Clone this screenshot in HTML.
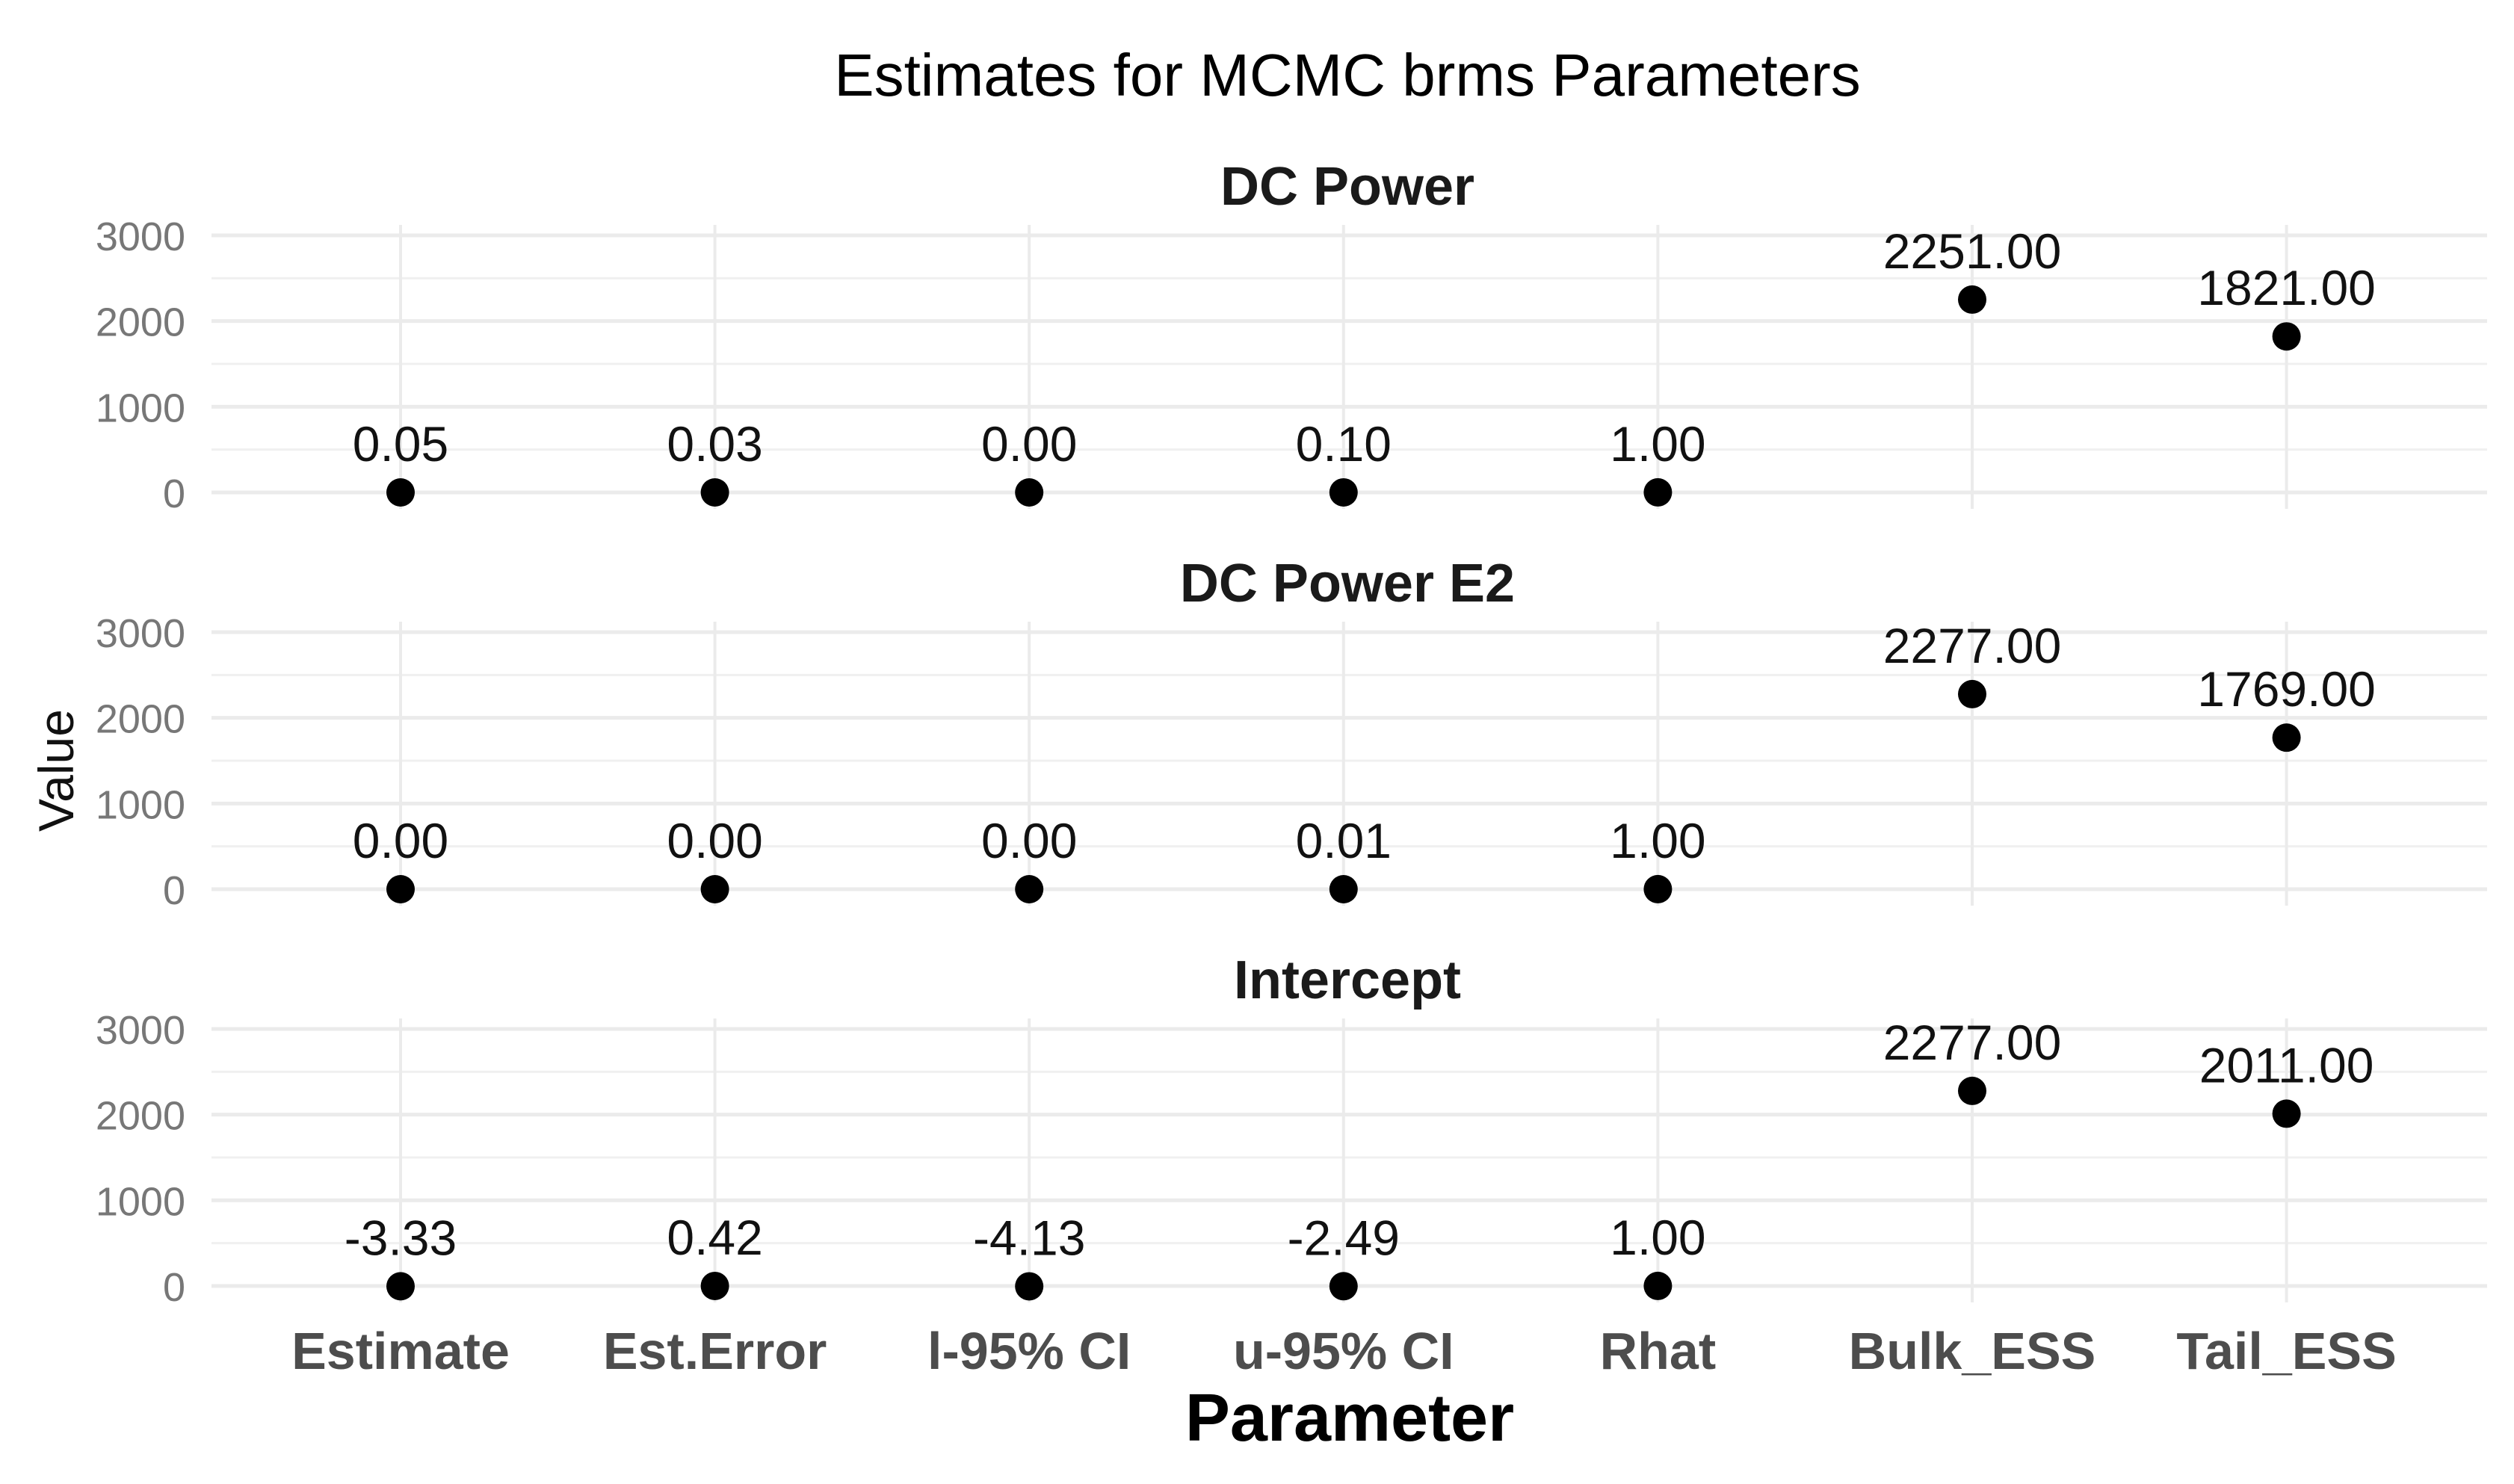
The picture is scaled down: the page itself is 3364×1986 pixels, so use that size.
<!DOCTYPE html>
<html><head><meta charset="utf-8"><style>
html,body{margin:0;padding:0;background:#fff;}
svg{display:block;}
</style></head><body>
<svg id="chart" width="3364" height="1986" xmlns="http://www.w3.org/2000/svg" font-family="Liberation Sans, sans-serif">
<rect width="3364" height="1986" fill="#fff"/>
<text x="1803" y="128" font-size="80" text-anchor="middle" fill="#000">Estimates for MCMC brms Parameters</text>
<text transform="translate(98,1031) rotate(-90)" font-size="66" text-anchor="middle" fill="#111">Value</text>
<text x="1806" y="1928" font-size="90" font-weight="bold" text-anchor="middle" fill="#000">Parameter</text>
<g id="panels"></g>
</svg>
<script>
const categories = ["Estimate","Est.Error","l-95% CI","u-95% CI","Rhat","Bulk_ESS","Tail_ESS"];
const panelNames = ["DC Power","DC Power E2","Intercept"];
const valuesDCPower = [0.05,0.03,0.00,0.10,1.00,2251,1821];
const valuesDCPowerE2 = [0.00,0.00,0.00,0.01,1.00,2277,1769];
const valuesIntercept = [-3.33,0.42,-4.13,-2.49,1.00,2277,2011];
const yTicks = [0,1000,2000,3000];
const yMinor = [500,1500,2500];

const NS="http://www.w3.org/2000/svg";
const root=document.getElementById('panels');
const allValues=[valuesDCPower,valuesDCPowerE2,valuesIntercept];
const xLeft=283,xRight=3328;
const panelZero=[659,1190,1721];
const pxPer=344/3000;
function xScale(i){return 536+i*420.6;}
function mk(tag,attrs,parent){const e=document.createElementNS(NS,tag);for(const k in attrs)e.setAttribute(k,attrs[k]);parent.appendChild(e);return e;}

panelNames.forEach((name,p)=>{
  const z=panelZero[p];
  const yScale=v=>z-v*pxPer;
  const g=mk('g',{},root);
  
  
  const top=yScale(3000)-14, bot=z+22;
  yMinor.forEach(t=>{const l=mk('line',{x1:xLeft,x2:xRight,y1:yScale(t),y2:yScale(t),stroke:'#f0f0f0','stroke-width':3},g);
    
    });
  yTicks.forEach(t=>{const l=mk('line',{x1:xLeft,x2:xRight,y1:yScale(t),y2:yScale(t),stroke:'#ebebeb','stroke-width':5},g);
    
    
    const tx=mk('text',{x:248,y:yScale(t)+20,'font-size':54,'text-anchor':'end',fill:'#777'},g);
    tx.textContent=String(t);
    
    });
  categories.forEach((c,i)=>{const l=mk('line',{x1:xScale(i),x2:xScale(i),y1:top,y2:bot,stroke:'#ebebeb','stroke-width':4},g);
    
    });
  const st=mk('text',{x:1803,y:z-385,'font-size':72,'font-weight':'bold','text-anchor':'middle',fill:'#1a1a1a'},g);
  st.textContent=name;
  
  
  allValues[p].forEach((v,i)=>{
    const cy=yScale(v);
    const d=mk('circle',{cx:xScale(i),cy:cy,r:19,fill:'#000'},g);
    
    
    const lb=mk('text',{x:xScale(i),y:cy-42,'font-size':66,'text-anchor':'middle',fill:'#111'},g);
    lb.textContent=v.toFixed(2);
    
    
  });
});
const xg=mk('g',{},root);
categories.forEach((c,i)=>{const t=mk('text',{x:xScale(i),y:1832,'font-size':70,'font-weight':'bold','text-anchor':'middle',fill:'#4d4d4d'},xg);
  t.textContent=c;
  
  });
</script>
</body></html>
